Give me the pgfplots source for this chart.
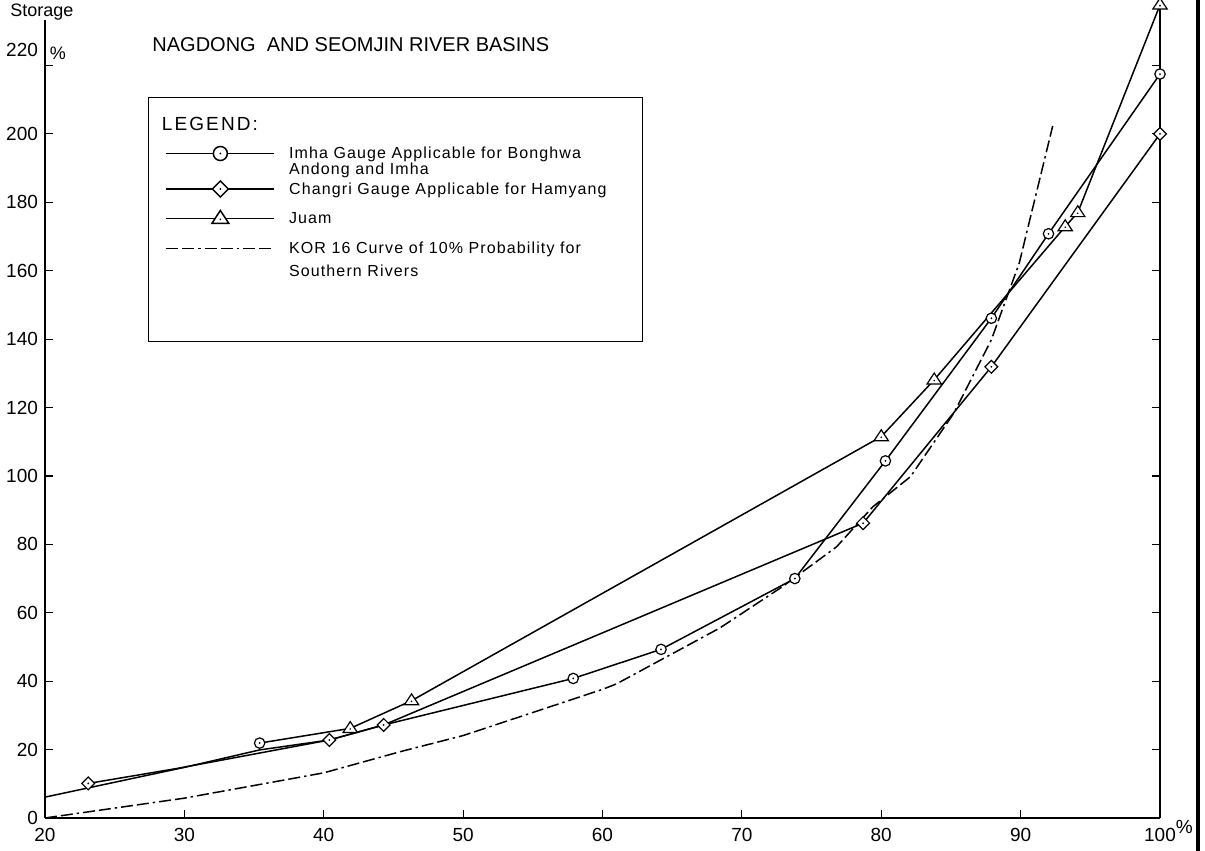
\documentclass[border=0pt]{standalone}
\usepackage{pgfplots}
\pgfplotsset{compat=1.18}
\usepackage{fontspec}
\setmainfont{Liberation Sans}
\newfontfamily\lsfont[LetterSpace=7]{Liberation Sans}
\newfontfamily\lgfont[LetterSpace=11]{Liberation Sans}

\pgfdeclareplotmark{codot}{%
  \pgfpathcircle{\pgfpointorigin}{\pgfplotmarksize}%
  \pgfusepathqfillstroke
  \pgfscope\pgfsetfillcolor{black}%
  \pgfpathcircle{\pgfpointorigin}{0.5pt}%
  \pgfusepathqfill\endpgfscope}
\pgfdeclareplotmark{ddot}{%
  \pgfpathmoveto{\pgfqpoint{\pgfplotmarksize}{0pt}}%
  \pgfpathlineto{\pgfqpoint{0pt}{\pgfplotmarksize}}%
  \pgfpathlineto{\pgfqpoint{-\pgfplotmarksize}{0pt}}%
  \pgfpathlineto{\pgfqpoint{0pt}{-\pgfplotmarksize}}%
  \pgfpathclose
  \pgfusepathqfillstroke
  \pgfscope\pgfsetfillcolor{black}%
  \pgfpathcircle{\pgfpointorigin}{0.5pt}%
  \pgfusepathqfill\endpgfscope}
\pgfdeclareplotmark{tdot}{%
  \pgfpathmoveto{\pgfqpoint{0pt}{\pgfplotmarksize}}%
  \pgfpathlineto{\pgfqpoint{-1.05\pgfplotmarksize}{-0.6\pgfplotmarksize}}%
  \pgfpathlineto{\pgfqpoint{1.05\pgfplotmarksize}{-0.6\pgfplotmarksize}}%
  \pgfpathclose
  \pgfusepathqfillstroke
  \pgfscope\pgfsetfillcolor{black}%
  \pgfpathcircle{\pgfqpoint{0pt}{-0.1\pgfplotmarksize}}{0.45pt}%
  \pgfusepathqfill\endpgfscope}

\pgfplotsset{
  myleg/.style 2 args={legend image code/.code={%
    \draw[mark=none,##1] (0pt,2.5pt) -- (54pt,2.5pt);
    \draw[##1] plot coordinates {(27pt,2.5pt)};
    \path (0pt,-#1) (0pt,#2);
  }},
  mylegdash/.style 2 args={legend image code/.code={%
    \draw[##1] (0pt,2.5pt) -- (54pt,2.5pt);
    \path (0pt,-#1) (0pt,#2);
  }},
}

\pgfplotstableread{
x y
20 6.1
30 14.8
35.4 19.9
40.4 22.8
44.3 27.2
57.9 40.8
64.2 49.3
73.8 70.0
80.3 104.4
87.9 146.1
92.0 170.8
100 217.5
}\imhaline
\pgfplotstableread{
x y
35.4 21.9
57.9 40.8
64.2 49.3
73.8 70.0
80.3 104.4
87.9 146.1
92.0 170.8
100 217.5
}\imhamarks
\pgfplotstableread{
x y
23.1 10.1
29.5 14.5
40.4 22.8
44.3 27.2
78.7 86.2
87.9 131.9
100 200.0
}\changriline
\pgfplotstableread{
x y
23.1 10.1
40.4 22.8
44.3 27.2
78.7 86.2
87.9 131.9
100 200.0
}\changrimarks
\pgfplotstableread{
x y
35.4 21.9
41.9 26.2
46.3 34.3
80.0 111.5
83.8 128.1
93.2 172.9
94.1 177.0
100 237.7
}\juamline
\pgfplotstableread{
x y
41.9 26.2
46.3 34.3
80.0 111.5
83.8 128.1
93.2 172.9
94.1 177.0
100 237.7
}\juammarks
\pgfplotstableread{
x y
20 0
30 5.8
40 13.2
45.5 19.4
50 24.1
60 37.6
61 39.2
68.4 55.5
72.9 67.6
76.8 79.3
79.4 91.0
82.1 99.8
85.2 118.3
87.9 139.8
89.9 162.2
92.3 202.3
}\korline

\begin{document}
\begin{tikzpicture}
\path[use as bounding box] (0,0) rectangle (602.5pt,425.5pt);
\begin{axis}[
  at={(22.5pt,16.5pt)}, anchor=south west,
  scale only axis, width=557.5pt, height=399pt,
  xmin=20, xmax=100, ymin=0, ymax=233.3,
  axis x line=bottom, axis y line=box,
  axis line style={-, line width=0.9pt, black},
  every outer x axis line/.append style={-},
  every outer y axis line/.append style={-},
  xtick={20,30,...,100},
  xticklabels={20,30,40,50,60,70,80,90,{100\rlap{\raisebox{0.8ex}[0pt][0pt]{\%}}}},
  ytick={0,20,...,220},
  yticklabels={0,20,40,60,80,100,120,140,160,180,200,{\raisebox{4.3pt}[0pt][0pt]{220}}},
  yticklabel pos=left,
  tick align=inside,
  major tick length=4pt,
  tick style={black, line width=0.6pt},
  tick label style={font=\fontsize{9.5}{10}\selectfont},
  xticklabel style={yshift=-1.5pt},
  clip=false,
  legend style={at={(axis cs:27.39,210.8)}, anchor=north west, draw=black, line width=0.6pt, fill=white,
     font=\lsfont\fontsize{8}{9}\selectfont, inner xsep=8.5pt, inner ysep=3pt,
     row sep=0pt, column sep=7pt, nodes={inner sep=0pt}, cells={anchor=base west}},
]
\addplot[black, line width=0.75pt, forget plot] table {\imhaline};
\addplot[black, line width=0.75pt, forget plot] table {\changriline};
\addplot[black, line width=0.75pt, forget plot] table {\juamline};
\addplot[black, line width=0.75pt, dash pattern=on 6pt off 2pt on 6pt off 2pt on 1.2pt off 2pt, forget plot] table {\korline};
\addplot[black, only marks, mark=codot, mark size=2.6pt, mark options={fill=white, line width=0.6pt}, forget plot] table {\imhamarks};
\addplot[black, only marks, mark=ddot, mark size=3.2pt, mark options={fill=white, line width=0.6pt}, forget plot] table {\changrimarks};
\addplot[black, only marks, mark=tdot, mark size=3.4pt, mark options={fill=white, line width=0.6pt}, forget plot] table {\juammarks};

\addlegendimage{legend image code/.code={\node[overlay,anchor=base west,inner sep=0pt,font=\lgfont\fontsize{9.5}{11}\selectfont] at (-2.5pt,0pt) {LEGEND:}; \path (0pt,-3.5pt) (0pt,13.25pt);}}
\addlegendentry{\hspace*{168pt}}
\addlegendimage{myleg={7.25pt}{9.75pt}, black, line width=0.75pt, mark=codot, mark size=3.5pt, mark options={fill=white, solid}}
\addlegendentry{\makebox[0pt][l]{\raisebox{-8pt}[0pt][0pt]{Andong and Imha}}Imha Gauge Applicable for Bonghwa}
\addlegendimage{myleg={4.25pt}{9.75pt}, black, line width=0.75pt, mark=ddot, mark size=4pt, mark options={fill=white, solid}}
\addlegendentry{Changri Gauge Applicable for Hamyang}
\addlegendimage{myleg={4.5pt}{9.75pt}, black, line width=0.75pt, mark=tdot, mark size=4pt, mark options={fill=white, solid}}
\addlegendentry{Juam}
\addlegendimage{mylegdash={40.5pt}{9.75pt}, black, line width=0.75pt, dash pattern=on 6pt off 2pt on 6pt off 2pt on 1.2pt off 2pt}
\addlegendentry{\makebox[0pt][l]{\raisebox{-11.5pt}[0pt][0pt]{Southern Rivers}}KOR 16 Curve of 10\% Probability for}

\node[anchor=west, font=\fontsize{10}{12}\selectfont, inner sep=0pt] at (axis cs:27.68,226.0) {NAGDONG\ \ AND SEOMJIN RIVER BASINS};
\node[font=\fontsize{9}{10}\selectfont, inner sep=0pt] at (axis cs:19.78,235.7) {Storage};
\node[font=\fontsize{9}{10}\selectfont, inner sep=0pt] at (axis cs:20.93,223.7) {\%};
\draw[line width=0.9pt] (axis cs:100,233.3) -- (axis cs:100,239.2);
\end{axis}
\draw[line width=1.6pt] (599pt,0pt) -- (599pt,425.5pt);
\end{tikzpicture}
\end{document}
